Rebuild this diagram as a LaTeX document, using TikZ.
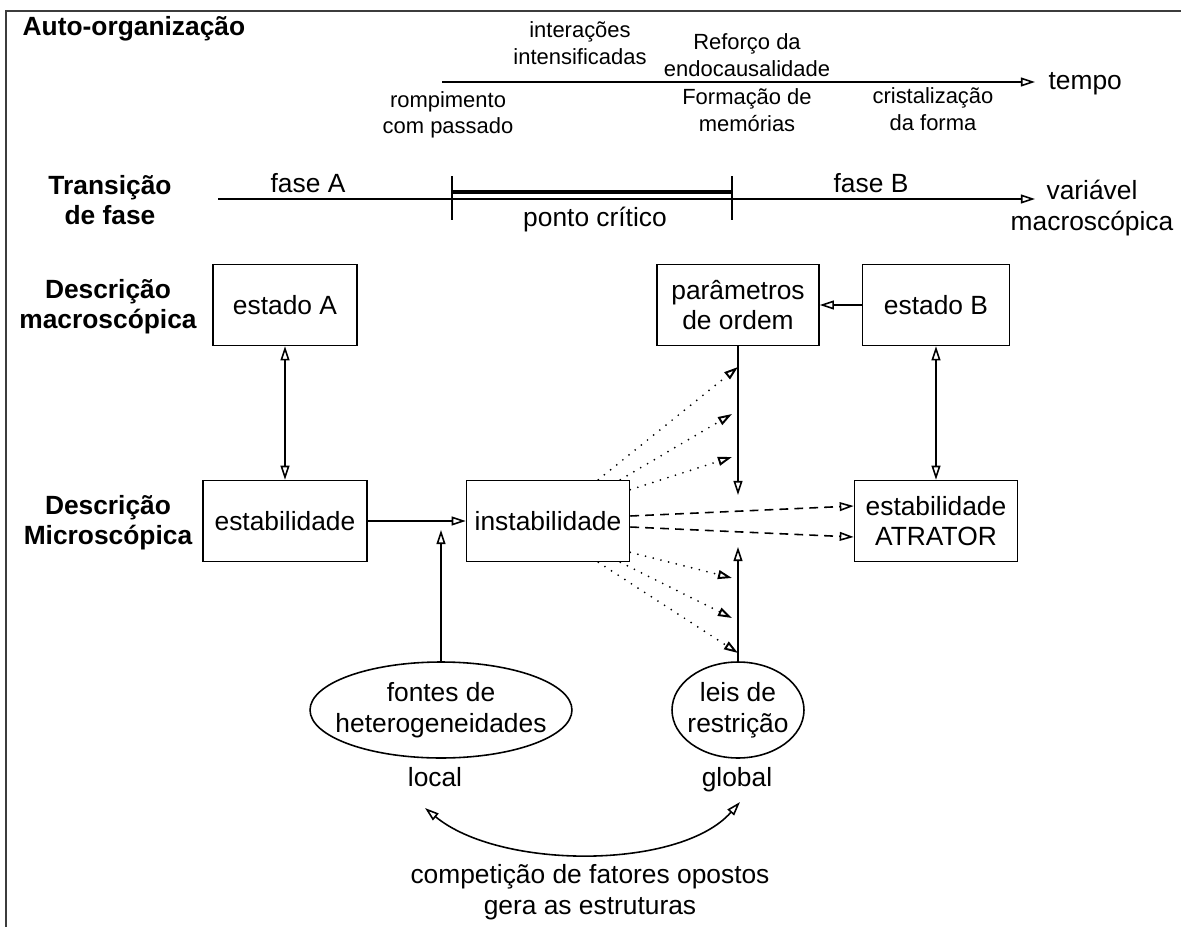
\documentclass[tikz,border=0pt]{standalone}
\usepackage{fontspec}
\setmainfont{Liberation Sans}
\usepackage{tikz}
\usetikzlibrary{arrows.meta,shapes.geometric}
\definecolor{moldura}{HTML}{3C3C3C}

\begin{document}
\begin{tikzpicture}[x=0.02cm,y=-0.02cm,line width=0.9pt,font=\fontsize{15}{17.5}\selectfont,
  caixa/.style={draw,align=center,inner sep=0pt,minimum height=1.62cm},
  elipse/.style={draw,ellipse,align=center,inner ysep=0pt,minimum height=1.92cm},
  seta/.style={-{Triangle[open,length=8pt,width=5pt]}},
  setas/.style={{Triangle[open,length=8pt,width=5pt]}-{Triangle[open,length=8pt,width=5pt]}},
  pontos/.style={seta,line width=1.1pt,line cap=round,dash pattern=on 0pt off 4.5pt},
  tracos/.style={seta,dash pattern=on 5pt off 3.5pt},
  nota/.style={align=center,font=\fontsize{12.5}{15}\selectfont},
  rotulo/.style={font=\fontsize{15}{17}\selectfont\bfseries,align=center}]
\useasboundingbox (0,0) rectangle (1181,927);
\draw[moldura,line width=1.7pt] (6,927)--(6,11)--(1181,11);
% rotulos da esquerda
\node[rotulo,anchor=base west] (auto) at (16,35) {Auto-organização};
\node[rotulo] (trans) at (110,200) {Transição\\de fase};
\node[rotulo] (macro) at (108,307) {Descrição\\macroscópica};
\node[rotulo] (micro) at (108,523) {Descrição\\Microscópica};
% linha do tempo
\coordinate (t0) at (442,82); \coordinate (t1) at (1035,82);
\draw[seta] (t0)--(t1);
\node[anchor=west] (tempo) at (1042,84) {tempo};
\node[nota] (inter) at (580,43) {interações\\intensificadas};
\node[nota] (reforco) at (747,55) {Reforço da\\endocausalidade};
\node[nota] (rompe) at (448,115) {rompimento\\com passado};
\node[nota] (memo) at (747,110) {Formação de\\memórias};
\node[nota] (crist) at (933,109) {cristalização\\da forma};
% transicao de fase
\coordinate (f0) at (218,199); \coordinate (f1) at (1035,199);
\draw[seta] (f0)--(f1);
\foreach \x in {452,732}{\draw (\x,176)--(\x,220);}
\draw[line width=2.4pt] (452,192)--(732,192);
\node[anchor=base] (faseA) at (308,192) {fase A};
\node (pcrit) at (595,220) {ponto crítico};
\node[anchor=base] (faseB) at (871,192) {fase B};
\node[align=center] (varmac) at (1092,208) {variável\\macroscópica};
% caixas
\node[caixa,minimum width=2.88cm] (estA) at (285,305) {estado A};
\node[caixa,minimum width=3.24cm] (param) at (738,305) {parâmetros\\de ordem};
\node[caixa,minimum width=2.94cm] (estB) at (936,305) {estado B};
\node[caixa,minimum width=3.28cm] (estab) at (285,521) {estabilidade};
\node[caixa,minimum width=3.26cm] (instab) at (548,521) {instabilidade};
\node[caixa,minimum width=3.26cm] (atrator) at (936,521) {estabilidade\\ATRATOR};
\node[elipse,inner xsep=-8pt,minimum width=5.24cm] (fontes) at (441,710) {fontes de\\heterogeneidades};
\node[elipse,inner xsep=-3pt,minimum width=2.64cm] (leis) at (738,710) {leis de\\restrição};
\node[anchor=base] (local) at (435,786) {local};
\node[anchor=base] (global) at (737,786) {global};
\node[align=center] (compet) at (590,892) {competição de fatores opostos\\gera as estruturas};
% setas
\draw[setas] (estA)--(estab);
\draw[setas] (estB)--(atrator);
\draw[seta] (estB)--(param);
\draw[seta] (estab)--(instab);
\coordinate (pc) at (738,495); \coordinate (lc) at (738,547); \coordinate (fc) at (441,530);
\draw[seta] (param)--(pc);
\draw[seta] (leis)--(lc);
\draw[seta] (fontes)--(fc);
\draw[tracos] ([yshift=0.1cm]instab.east)--([yshift=0.3cm]atrator.west);
\draw[tracos] ([yshift=-0.12cm]instab.east)--([yshift=-0.32cm]atrator.west);
% linhas pontilhadas
\coordinate (o1) at ([xshift=-0.64cm]instab.north east); \coordinate (s1) at (738,367);
\coordinate (o2) at ([xshift=-0.2cm]instab.north east);  \coordinate (s2) at (732,414);
\coordinate (o3) at ([yshift=-0.2cm]instab.north east);  \coordinate (s3) at (732,457);
\coordinate (o4) at ([yshift=0.2cm]instab.south east);   \coordinate (s4) at (732,578);
\coordinate (o5) at ([xshift=-0.2cm]instab.south east);  \coordinate (s5) at (732,618);
\coordinate (o6) at ([xshift=-0.64cm]instab.south east); \coordinate (s6) at (738,653);
\foreach \i in {1,...,6}{\draw[pontos] (o\i)--(s\i);}
\coordinate (cl) at (425,808); \coordinate (cg) at (740,802);
\draw[setas] (cl) .. controls (500,870) and (680,870) .. (cg);
\end{tikzpicture}
\end{document}
